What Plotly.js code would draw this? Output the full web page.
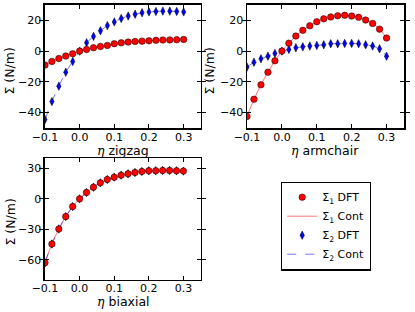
<!DOCTYPE html>
<html><head><meta charset="utf-8">
<script src="https://cdn.plot.ly/plotly-3.0.1.min.js"></script>
<style>html,body{margin:0;padding:0;background:#fff}#c{width:415px;height:312px}</style>
</head><body><div id="c"></div>
<script>
const eta = [-0.1,-0.08,-0.06,-0.04,-0.02,0,0.02,0.04,0.06,0.08,0.1,0.12,0.14,0.16,0.18,0.2,0.22,0.24,0.26,0.28,0.3];
const zigS1 = [-9.1,-6.7,-4.8,-3.2,-1.7,0,1.1,2.2,3.0,3.7,4.8,5.4,5.9,6.3,6.5,6.7,7.0,7.2,7.3,7.4,7.6];
const zigS2 = [-44.5,-32.8,-22.8,-13.7,-6.7,0,5.4,9.6,13.2,16.6,19.0,21.2,22.8,24.0,25.0,25.5,25.8,26.0,26.0,25.8,25.5];
const armS1 = [-42.5,-31.3,-21.9,-13.7,-6.3,0,5.2,9.8,13.5,16.5,19.1,21.0,22.2,23.0,23.3,22.8,22.0,20.2,18.0,14.3,8.5];
const armS2 = [-10.4,-7.2,-5.0,-3.3,-1.5,0,1.1,2.2,2.8,3.3,3.7,4.1,4.8,4.8,5.0,5.0,4.8,4.1,3.3,1.5,-3.3];
const biaS1 = [-63,-44.5,-29.7,-17.5,-7.6,0,6.3,11.5,15.8,19.1,21.4,23.4,24.7,26.0,27.0,27.7,27.7,28.0,28.0,27.7,27.4];
const biaS2 = biaS1.slice();
const xTicks = [-0.1,0,0.1,0.2,0.3];
const xTickText = ['\u22120.1','0.0','0.1','0.2','0.3'];
const xLabels = ['zigzag','armchair','biaxial'];
const yLabel = 'Σ (N/m)';

const RED='#ff0000', BLUE='#0000ff';
function traces(xa, ya, s1, s2){
  return [
    {x:eta,y:s1,xaxis:xa,yaxis:ya,type:'scatter',mode:'lines',line:{color:'rgba(255,0,0,0.55)',width:1,shape:'spline'},name:'Σ<sub>1</sub> Cont',showlegend:false,legendrank:2},
    {x:eta,y:s2,xaxis:xa,yaxis:ya,type:'scatter',mode:'lines',line:{color:'rgba(0,0,255,0.55)',width:1,dash:'dash',shape:'spline'},name:'Σ<sub>2</sub> Cont',showlegend:false,legendrank:4},
    {x:eta,y:s2,xaxis:xa,yaxis:ya,type:'scatter',mode:'markers',marker:{symbol:'diamond-tall',size:6,color:BLUE,line:{color:'#000',width:0.5}},name:'Σ<sub>2</sub> DFT',showlegend:false,legendrank:3},
    {x:eta,y:s1,xaxis:xa,yaxis:ya,type:'scatter',mode:'markers',marker:{symbol:'circle',size:6.5,color:RED,line:{color:'#000',width:0.5}},name:'Σ<sub>1</sub> DFT',showlegend:false,legendrank:1}
  ];
}
const data = [].concat(traces('x','y',zigS1,zigS2), traces('x2','y2',armS1,armS2), traces('x3','y3',biaS1,biaS2));
data[0].showlegend=true; data[1].showlegend=true; data[2].showlegend=true; data[3].showlegend=true;
// empty carriers for the tick-label axes
data.push({x:[],y:[],xaxis:'x4',yaxis:'y',type:'scatter',showlegend:false});
data.push({x:[],y:[],xaxis:'x5',yaxis:'y2',type:'scatter',showlegend:false});
data.push({x:[],y:[],xaxis:'x6',yaxis:'y3',type:'scatter',showlegend:false});

const TICKFONT = {family:'DejaVu Sans', size:11, color:'#000'};
const TITLEFONT = {family:'DejaVu Sans', size:12.5, color:'#000'};
function xax(dom, anchor){
  return {domain:dom, anchor:anchor, range:[-0.1,0.35], tickvals:xTicks, ticktext:xTickText,
    ticks:'inside', ticklen:4, tickcolor:'#000', showline:true, linecolor:'#000', linewidth:1.5, mirror:'allticks',
    showgrid:false, zeroline:false, showticklabels:false};
}
function xlab(dom, over, posPx){
  return {domain:dom, overlaying:over, anchor:'free', position:1-posPx/312, side:'bottom', range:[-0.1,0.35],
    tickvals:xTicks, ticktext:xTickText, ticks:'', showline:false, showgrid:false, zeroline:false, tickfont:TICKFONT};
}
function yax(dom, anchor, range, dtick){
  return {domain:dom, anchor:anchor, range:range, dtick:dtick, tick0:0,
    ticks:'inside', ticklen:4, tickcolor:'#000', showline:true, linecolor:'#000', linewidth:1.5, mirror:'allticks',
    showgrid:false, zeroline:false, tickfont:TICKFONT};
}
function ann(text, px, py, angle){
  return {text:text, x:px/415, y:1-py/312, xref:'paper', yref:'paper', showarrow:false,
    xanchor:'center', yanchor:'middle', textangle:angle||0, font:TITLEFONT};
}
const ETA = '<span style="font-family:DejaVu Serif"><i>η</i></span> ';
const dom1=[0.1084,0.4843], dom2=[0.5952,0.9735], dom3=[0.1084,0.4836];
const layout = {
  width:415, height:312, margin:{l:0,r:0,t:0,b:0}, paper_bgcolor:'#fff', plot_bgcolor:'#fff',
  font:TICKFONT, showlegend:true,
  xaxis: xax(dom1,'y'),
  yaxis: yax([0.5897,0.984],'x',[-50,30],20),
  xaxis2: xax(dom2,'y2'),
  yaxis2: yax([0.5897,0.984],'x2',[-50,30],20),
  xaxis3: xax(dom3,'y3'),
  yaxis3: yax([0.1026,0.4926],'x3',[-80,40],30),
  xaxis4: xlab(dom1,'x',128.5),
  xaxis5: xlab(dom2,'x2',128.5),
  xaxis6: xlab(dom3,'x3',280),
  annotations:[
    ann(ETA+xLabels[0], 123, 150),
    ann(ETA+xLabels[1], 325, 150),
    ann(ETA+xLabels[2], 123, 301),
    ann(yLabel, 9.5, 71, -90),
    ann(yLabel, 209.5, 71, -90),
    ann(yLabel, 9.5, 222, -90)
  ],
  legend:{x:281/415, y:1-181.5/312, xanchor:'left', yanchor:'top', bordercolor:'#000', borderwidth:1.2,
    bgcolor:'#fff', font:{family:'DejaVu Sans', size:11, color:'#000'}, tracegroupgap:0, traceorder:'normal', itemwidth:30}
};
Plotly.newPlot('c', data, layout, {staticPlot:true});
</script></body></html>
